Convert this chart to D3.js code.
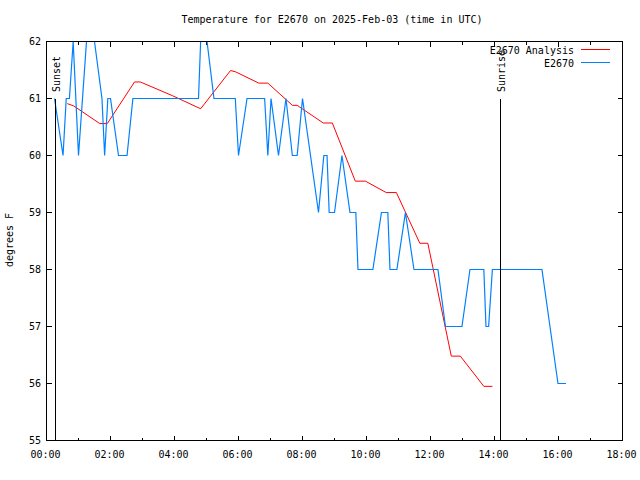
<!DOCTYPE html>
<html><head><meta charset="utf-8">
<script src="https://cdn.jsdelivr.net/npm/d3@7"></script>
<style>
body{margin:0;background:#fff;}
text{font-family:"DejaVu Sans Mono","Liberation Mono",monospace;font-size:10px;fill:#000;}
</style></head>
<body><svg id="c" width="640" height="480"></svg>
<script>
const titleText = "Temperature for E2670 on 2025-Feb-03 (time in UTC)";
const yLabel = "degrees F";
const seriesNames = ["E2670 Analysis", "E2670"];
const xTickLabels = ["00:00","02:00","04:00","06:00","08:00","10:00","12:00","14:00","16:00","18:00"];
const yTickValues = [55,56,57,58,59,60,61,62];

const obsTimes = ["0:15","0:31","0:37","0:43","0:50","1:00","1:15","1:30","1:44","1:49","1:55","2:00","2:15","2:31","2:42","4:45","4:49","5:01","5:14","5:54","6:00","6:16","6:49","6:55","7:01","7:15","7:29","7:41","7:50","8:00","8:30","8:40","8:46","8:50","9:00","9:14","9:29","9:40","9:44","10:12","10:28","10:40","10:44","10:57","11:13","11:29","12:14","12:28","12:59","13:14","13:40","13:44","13:49","13:56","15:29","15:59","16:14"];
const obsTemps = [61,60,61,61,62,60,62,62,61,60,61,61,60,60,61,61,62,62,61,61,60,61,61,60,61,60,61,60,60,61,59,60,60,59,59,60,59,59,58,58,59,59,58,58,59,58,58,57,57,58,58,57,57,58,58,56,56];

const anaTimes = ["0:39","0:51","1:40","1:54","2:45","2:56","3:56","4:49","5:45","5:54","6:38","6:55","7:41","7:50","8:39","8:56","9:39","9:58","10:37","10:56","11:40","11:55","12:39","12:56","13:40","13:56"];
const anaTemps = [60.91,60.87,60.56,60.56,61.29,61.29,61.05,60.82,61.49,61.47,61.27,61.27,60.88,60.88,60.57,60.57,59.55,59.55,59.35,59.35,58.46,58.46,56.48,56.48,55.95,55.95];

const markerNames = ["Sunset","Sunrise"];
const markerTimes = ["0:16","14:10"];

const toH = s => { const [h,m] = s.split(":").map(Number); return h + m/60; };

const svg = d3.select("#c");
const L = 46.5, R = 622.5, T = 41.5, B = 440.5;
const x = d3.scaleLinear().domain([0,18]).range([L,R]);
const y = d3.scaleLinear().domain([55,62]).range([B,T]);

svg.append("text").attr("x",332).attr("y",23).attr("text-anchor","middle").text(titleText);
svg.append("text").attr("transform","translate(13,240) rotate(-90)").attr("text-anchor","middle").text(yLabel);

const g = svg.append("g");
// ticks
const majors = d3.range(0,19,2), minors = d3.range(1,18,2);
const tk = (x1,y1,x2,y2)=>g.append("line").attr("x1",x1).attr("y1",y1).attr("x2",x2).attr("y2",y2).attr("stroke","#000").attr("shape-rendering","crispEdges");
majors.forEach(h=>{ tk(x(h),B,x(h),B-5); tk(x(h),T,x(h),T+5); });
minors.forEach(h=>{ tk(x(h),B,x(h),B-3); tk(x(h),T,x(h),T+3); });
yTickValues.forEach(v=>{ tk(L,y(v),L+5,y(v)); tk(R,y(v),R-5,y(v)); });
xTickLabels.forEach((t,i)=>{
  g.append("text").attr("x",x(toH(t))-1).attr("y",458).attr("text-anchor","middle").text(t);
});
yTickValues.forEach(v=>{
  g.append("text").attr("x",41).attr("y",y(v)+3.5).attr("text-anchor","end").text(v);
});

const clip = svg.append("clipPath").attr("id","pc").append("rect").attr("x",L).attr("y",T-1).attr("width",R-L).attr("height",B-T+1);

const line = d3.line().x(d=>x(d[0])).y(d=>y(d[1]));
const ana = anaTimes.map((t,i)=>[toH(t),anaTemps[i]]);
const obs = obsTimes.map((t,i)=>[toH(t),obsTemps[i]]);
svg.append("path").attr("d",line(ana)).attr("fill","none").attr("stroke","#ff0000").attr("stroke-width",1).attr("clip-path","url(#pc)");
svg.append("path").attr("d",line(obs)).attr("fill","none").attr("stroke","#0080ff").attr("stroke-width",1.2).attr("clip-path","url(#pc)");

// sunset/sunrise markers
markerTimes.forEach((t,i)=>{
  const xm = Math.round(x(toH(t)))+0.5;
  svg.append("line").attr("x1",xm).attr("x2",xm).attr("y1",99).attr("y2",B).attr("stroke","#000").attr("shape-rendering","crispEdges");
  svg.append("text").attr("transform",`translate(${xm+4},92) rotate(-90)`).attr("text-anchor","start").text(markerNames[i]);
});

// legend
const colors = ["#ff0000","#0080ff"];
seriesNames.forEach((n,i)=>{
  const yy = 49.5 + i*13;
  svg.append("text").attr("x",574).attr("y",yy+4).attr("text-anchor","end").text(n);
  svg.append("line").attr("x1",581).attr("x2",610).attr("y1",yy).attr("y2",yy).attr("stroke",colors[i]).attr("shape-rendering","crispEdges");
});

// border
svg.append("rect").attr("x",L).attr("y",T).attr("width",R-L).attr("height",B-T).attr("fill","none").attr("stroke","#000").attr("shape-rendering","crispEdges");
</script></body></html>
